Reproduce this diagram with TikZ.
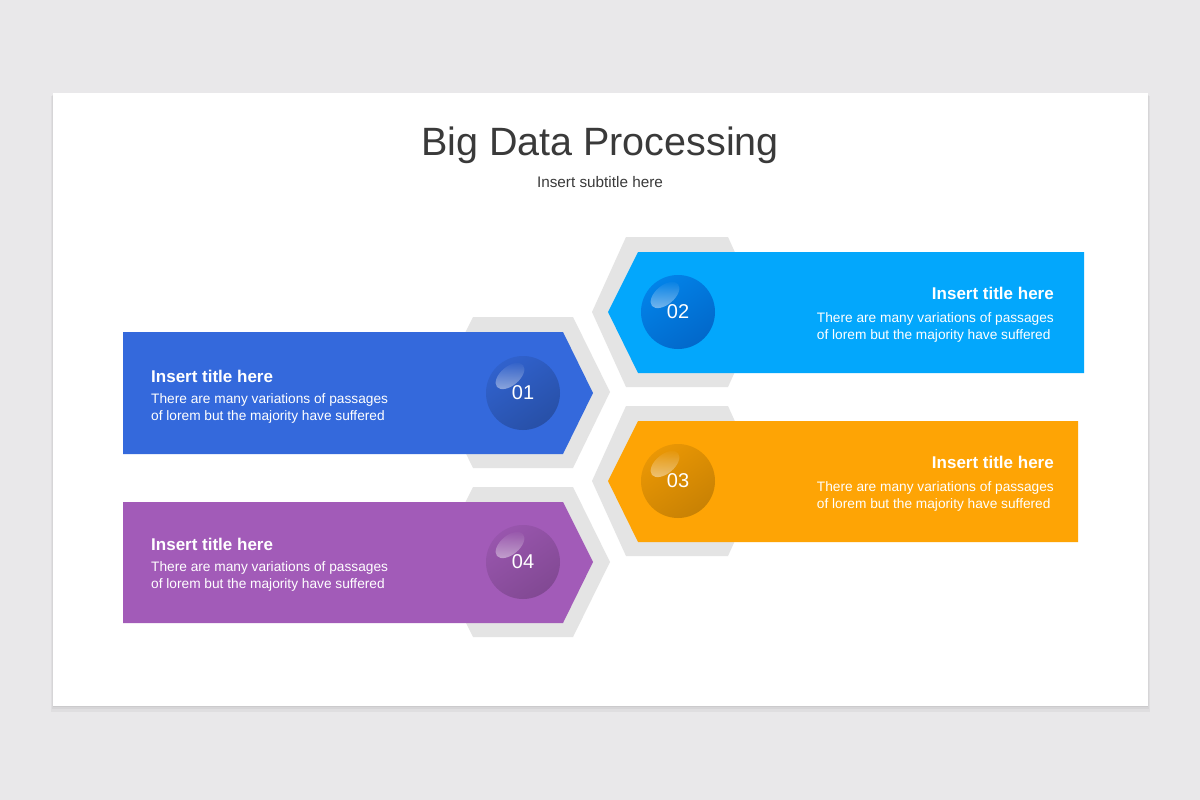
\documentclass[tikz,border=0pt]{standalone}
\usepackage{fontspec}
\setmainfont{Liberation Sans}
\usetikzlibrary{positioning}
\usetikzlibrary{shapes.geometric}
\usetikzlibrary{fadings}

\definecolor{pagebg}{HTML}{E9E8EA}
\definecolor{hexgray}{HTML}{E4E4E4}
\definecolor{titlegray}{HTML}{3A3A3A}
\definecolor{bluebox}{HTML}{3469DC}
\definecolor{cyanbox}{HTML}{03A7FC}
\definecolor{orangebox}{HTML}{FEA405}
\definecolor{purplebox}{HTML}{A25BB8}

\begin{document}
\begin{tikzpicture}[x=1pt, y=-1pt,
    numball/.style={circle, minimum size=74pt, inner sep=0pt, text=white,
      font=\fontsize{20}{24}\selectfont},
    gloss/.style={ellipse, minimum width=34pt, minimum height=19pt, inner sep=0pt,
      fill=white, fill opacity=0.45, path fading=north, rotate=40},
    boxtitle/.style={inner sep=0pt, text=white, font=\bfseries\fontsize{17}{20}\selectfont},
    boxtext/.style={inner sep=0pt, text=white, font=\fontsize{13.7}{17}\selectfont}]
        \useasboundingbox (0,0) rectangle (1200,800);
        \fill[pagebg] (0,0) rectangle (1200,800);

        % slide and its shadow
        \fill[black, opacity=0.04] (51,96) rectangle (1150,712);
        \fill[black, opacity=0.04] (52,95) rectangle (1149,709);
        \fill[black, opacity=0.05] (53,94) rectangle (1148,707);
        \fill[white] (53,93) rectangle (1148,706);

        \node [anchor=base, text=titlegray, font=\fontsize{39.5}{44}\selectfont] (title) at (600,155) {Big Data Processing};
        \node [anchor=base, text=titlegray, font=\fontsize{15.3}{18}\selectfont] (subtitle) at (600,187) {Insert subtitle here};

        % grey hexagons
        \fill[hexgray] (436,392) -- (473,317) -- (573,317) -- (610,392) -- (573,468) -- (473,468) -- cycle;
        \fill[hexgray] (592,312) -- (626,237) -- (728,237) -- (762,312) -- (728,387) -- (626,387) -- cycle;
        \fill[hexgray] (592,481) -- (626,406) -- (728,406) -- (762,481) -- (728,556) -- (626,556) -- cycle;
        \fill[hexgray] (436,562) -- (473,487) -- (573,487) -- (610,562) -- (573,637) -- (473,637) -- cycle;

        % coloured arrows
        \fill[bluebox] (123,332) -- (563,332) -- (593,393) -- (563,454) -- (123,454) -- cycle;
        \fill[cyanbox] (1084,252) -- (638,252) -- (608,312) -- (638,373) -- (1084,373) -- cycle;
        \fill[orangebox] (1078,421) -- (638,421) -- (608,481) -- (638,542) -- (1078,542) -- cycle;
        \fill[purplebox] (123,502) -- (563,502) -- (593,562) -- (563,623) -- (123,623) -- cycle;

        % numbered balls
        \node [numball, top color=bluebox!93!black, bottom color=bluebox!76!black, shading angle=35] (n1) at (523,393) {01};
        \node [numball, top color=cyanbox!85!blue!92!black, bottom color=cyanbox!78!blue!80!black, shading angle=35] (n2) at (678,312) {02};
        \node [numball, top color=orangebox!92!black, bottom color=orangebox!79!black, shading angle=35] (n3) at (678,481) {03};
        \node [numball, top color=purplebox!94!black, bottom color=purplebox!80!black, shading angle=35] (n4) at (523,562) {04};

        \node [gloss] (g1) at ([shift={(-13,-17)}]n1.center) {};
        \node [gloss] (g2) at ([shift={(-13,-17)}]n2.center) {};
        \node [gloss] (g3) at ([shift={(-13,-17)}]n3.center) {};
        \node [gloss] (g4) at ([shift={(-13,-17)}]n4.center) {};

        % texts
        \node [boxtitle, anchor=base west] (t1) at (151,382) {Insert title here};
        \node [boxtext, anchor=north west, align=left] (d1) at (151,393) {There are many variations of passages\\of lorem but the majority have suffered};

        \node [boxtitle, anchor=base east] (t2) at (1054,299) {Insert title here};
        \node [boxtext, anchor=north east, align=left] (d2) at (1054,312) {There are many variations of passages\\of lorem but the majority have suffered};

        \node [boxtitle, anchor=base east] (t3) at (1054,468) {Insert title here};
        \node [boxtext, anchor=north east, align=left] (d3) at (1054,481) {There are many variations of passages\\of lorem but the majority have suffered};

        \node [boxtitle, anchor=base west] (t4) at (151,550) {Insert title here};
        \node [boxtext, anchor=north west, align=left] (d4) at (151,561) {There are many variations of passages\\of lorem but the majority have suffered};
    \end{tikzpicture}
\end{document}
